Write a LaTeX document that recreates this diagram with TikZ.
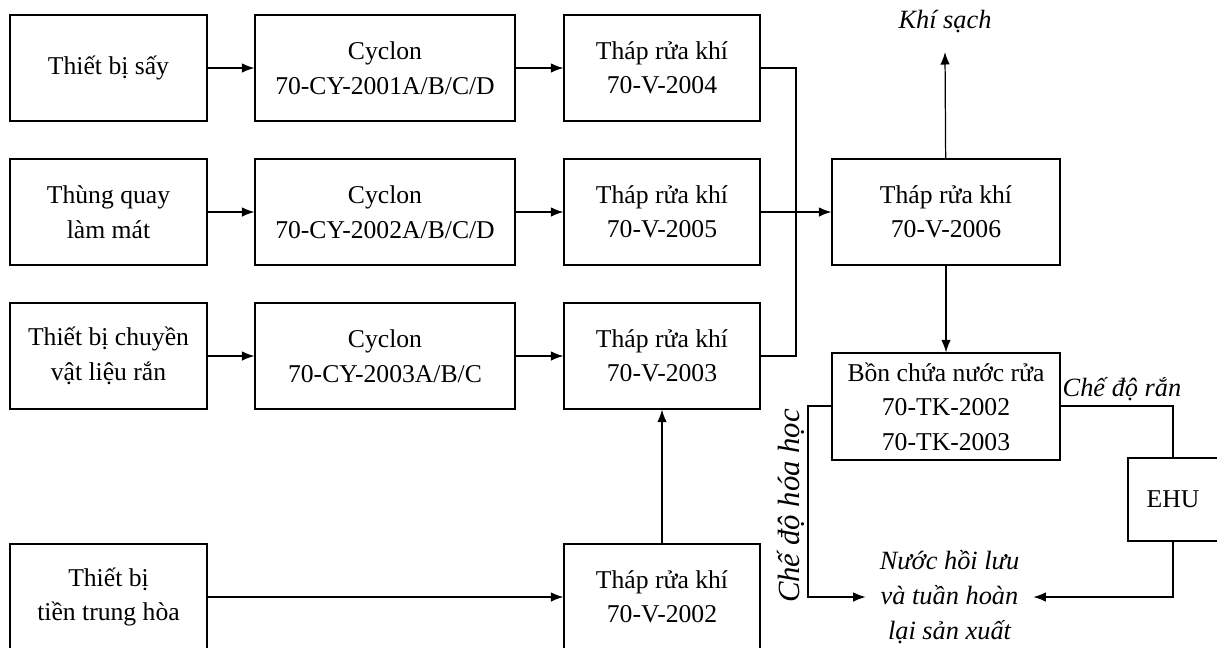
\documentclass[tikz,border=0pt]{standalone}
\usepackage{fontspec}
\setmainfont{Liberation Serif}
\usetikzlibrary{arrows.meta}

\tikzset{
  unit/.style = {draw, line width=0.7pt, align=center, inner sep=0pt,
                 minimum height=2.12cm, font=\fontsize{14.6}{19.6}\selectfont},
  flow/.style = {line width=0.7pt, -{Latex[length=2.5mm,width=1.9mm]}},
  pipe/.style = {line width=0.7pt},
  note/.style = {font=\fontsize{15}{20}\selectfont\itshape, align=center, inner sep=0pt}
}

\begin{document}
\begin{tikzpicture}[x=0.02cm, y=-0.02cm]
        \clip (0,0) rectangle (1217,647);
        % Sources
        \node[unit, minimum width=3.94cm] (say) at (108.5,68) {Thiết bị sấy};
        \node[unit, minimum width=3.94cm] (quay) at (108.5,212) {Thùng quay\\làm mát};
        \node[unit, minimum width=3.94cm] (chuyen) at (108.5,356) {Thiết bị chuyền\\vật liệu rắn};
        \node[unit, minimum width=3.94cm] (trung) at (108.5,597) {Thiết bị\\tiền trung hòa};
        % Cyclones
        \node[unit, minimum width=5.2cm] (cy1) at (385,68) {Cyclon\\70-CY-2001A/B/C/D};
        \node[unit, minimum width=5.2cm] (cy2) at (385,212) {Cyclon\\70-CY-2002A/B/C/D};
        \node[unit, minimum width=5.2cm] (cy3) at (385,356) {Cyclon\\70-CY-2003A/B/C};
        % Scrubbers
        \node[unit, minimum width=3.92cm] (v4) at (662,68) {Tháp rửa khí\\70-V-2004};
        \node[unit, minimum width=3.92cm] (v5) at (662,212) {Tháp rửa khí\\70-V-2005};
        \node[unit, minimum width=3.92cm] (v3) at (662,356) {Tháp rửa khí\\70-V-2003};
        \node[unit, minimum width=3.92cm] (v2) at (662,597) {Tháp rửa khí\\70-V-2002};
        \draw[flow] (say) -- (cy1);
        \draw[flow] (quay) -- (cy2);
        \draw[flow] (chuyen) -- (cy3);
        \draw[flow] (cy1) -- (v4);
        \draw[flow] (cy2) -- (v5);
        \draw[flow] (cy3) -- (v3);
        \draw[flow] (trung) -- (v2);
        \draw[flow] (v2) -- (v3);
        % Main scrubber
        \node[unit, minimum width=4.56cm] (v6) at (946,212) {Tháp rửa khí\\70-V-2006};
        \coordinate (bus) at (796,212);
        \draw[pipe] (v4.east) -| (bus) |- (v3.east);
        \draw[flow] (v5) -- (v6);
        % Clean gas
        \node[note] (sach) at (945,22) {Khí sạch};
        \coordinate (sachend) at (945,52);
        \draw[flow] (v6) -- (sachend);
        % Tank
        \node[unit, minimum width=4.56cm, minimum height=2.14cm] (bon) at (946,406.5)
             {Bồn chứa nước rửa\\70-TK-2002\\70-TK-2003};
        \draw[flow] (v6) -- (bon);
        % EHU
        \node[unit, minimum width=1.8cm, minimum height=1.66cm] (ehu) at (1173,499.5) {EHU};
        % Recycle
        \node[note, minimum width=3.34cm] (hoi) at (949.5,597) {Nước hồi lưu\\và tuần hoàn\\lại sản xuất};
        \coordinate (hoaleft) at (808,406);
        \draw[flow] (bon.west |- hoaleft) -- (hoaleft) |- (hoi.west);
        \draw[pipe] (bon.east |- hoaleft) -| (ehu.north);
        \draw[flow] (ehu.south) |- (hoi.east);
        \node[note] (ran) at (1122,389) {Chế độ rắn};
        \node[note, font=\fontsize{17.5}{20}\selectfont\itshape, rotate=90] (hoa) at (791,506) {Chế độ hóa học};
\end{tikzpicture}
\end{document}
